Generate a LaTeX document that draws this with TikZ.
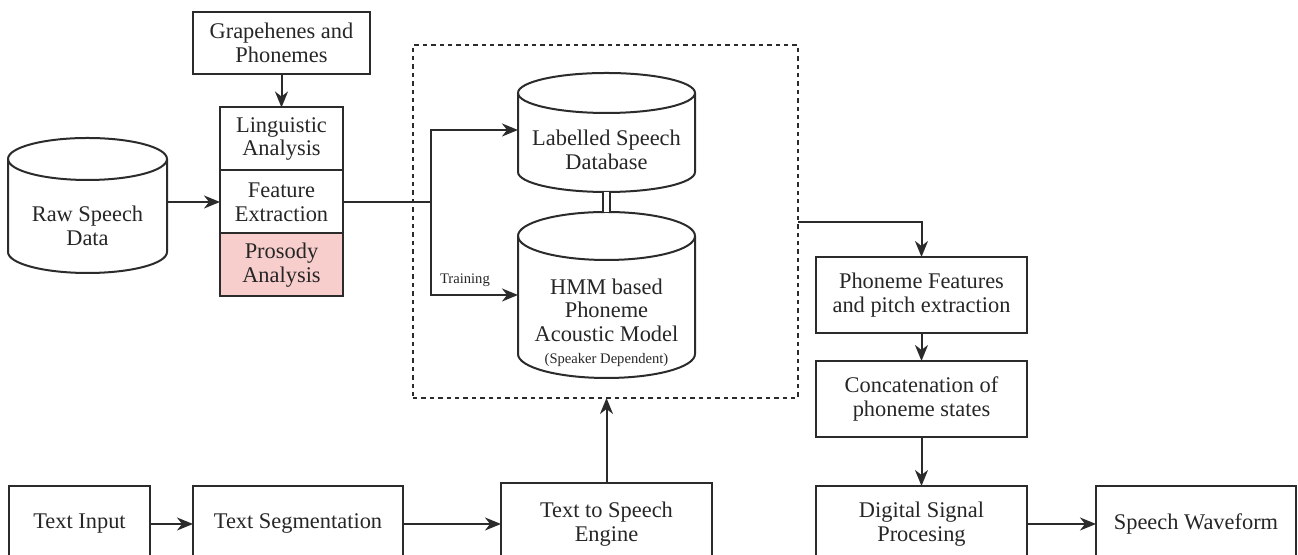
\documentclass[tikz,border=0pt]{standalone}
\usepackage{fontspec}
\setmainfont{Liberation Serif}
\usetikzlibrary{arrows.meta}
\definecolor{linec}{HTML}{2B2B2B}
\definecolor{pinkf}{HTML}{F8CECC}
\begin{document}
\begin{tikzpicture}[x=0.5pt,y=0.5pt,
  every node/.style={font=\fontsize{11.2}{11.8}\selectfont, text=black!85, align=center},
  box/.style={draw=linec, line width=1pt, inner sep=0pt, outer sep=0pt},
  body/.style={inner sep=0pt, outer sep=0pt},
  ln/.style={draw=linec, line width=1pt},
  arr/.style={draw=linec, line width=1pt, -{Stealth[length=8pt,width=6.5pt,inset=2.5pt]}},
  dbl/.style={draw=linec, line width=0.9pt, double, double distance=2.6pt},
  dashbox/.style={draw=linec, line width=0.9pt, dash pattern=on 2.2pt off 2pt, inner sep=0pt, outer sep=0pt},
  small/.style={font=\fontsize{7.3}{8}\selectfont},
]
\useasboundingbox (0,0) rectangle (1298,555);
\clip (0,0) rectangle (1298,555);

% dashed group box
\node[dashbox, minimum width=192.5pt, minimum height=176.5pt] (grp) at (605.5,333.5) {};

% top-left boxes
\node[box, minimum width=88.5pt, minimum height=31pt] (graph) at (281.5,512) {Grapehenes and\\Phonemes};
\node[box, minimum width=61.5pt, minimum height=31.5pt] (ling) at (281.5,416) {Linguistic\\Analysis};
\node[box, minimum width=61.5pt, minimum height=31.5pt] (feat) at (281.5,353) {Feature\\Extraction};
\node[box, fill=pinkf, minimum width=61.5pt, minimum height=31.5pt] (pros) at (281.5,290) {Prosody\\Analysis};

% Raw Speech Data cylinder
\node[body, minimum width=79.5pt, minimum height=67.5pt] (raw) at (87.5,349.5) {};
\draw[ln] (8,396) -- (8,303) arc[start angle=180, end angle=360, x radius=79.5, y radius=21] -- (167,396);
\draw[ln] (87.5,396) ellipse [x radius=79.5, y radius=21];
\node (rawtxt) at (87.5,329) {Raw Speech\\Data};

% Labelled Speech Database cylinder
\node[body, minimum width=88.5pt, minimum height=59.5pt] (ldb) at (606.5,422.5) {};
\draw[ln] (518,462) -- (518,383) arc[start angle=180, end angle=360, x radius=88.5, y radius=20] -- (695,462);
\draw[ln] (606.5,462) ellipse [x radius=88.5, y radius=20];
\node (ldbtxt) at (606.5,405) {Labelled Speech\\Database};

% HMM cylinder
\node[body, minimum width=88.5pt, minimum height=83pt] (hmm) at (606.5,260) {};
\draw[ln] (518,319) -- (518,201) arc[start angle=180, end angle=360, x radius=88.5, y radius=24] -- (695,319);
\draw[ln] (606.5,319) ellipse [x radius=88.5, y radius=24];
\node (hmmtxt) at (606.5,245) {HMM based\\Phoneme\\Acoustic Model};
\node[small] (spk) at (606.5,195) {(Speaker Dependent)};

% right column
\node[box, minimum width=105.5pt, minimum height=38pt] (phon) at (921.5,260) {Phoneme Features\\and pitch extraction};
\node[box, minimum width=105.5pt, minimum height=38pt] (conc) at (921.5,156) {Concatenation of\\phoneme states};
\node[box, minimum width=105.5pt, minimum height=38pt] (dsp) at (921.5,31) {Digital Signal\\Procesing};
\node[box, minimum width=100pt, minimum height=38pt] (sw) at (1196,31) {Speech Waveform};

% bottom row
\node[box, minimum width=70.5pt, minimum height=38pt] (tin) at (79.5,31) {Text Input};
\node[box, minimum width=105pt, minimum height=38pt] (tseg) at (298,31) {Text Segmentation};
\node[box, minimum width=105.5pt, minimum height=41pt] (tts) at (606.5,31) {Text to Speech\\Engine};

% connector helper coordinates
\coordinate (br) at (431,353);
\coordinate (ldbin) at (518,425);
\coordinate (hmmin) at (518,260);
\coordinate (gout) at (798,333);

% connectors
\draw[arr] (graph) -- (ling);
\draw[arr] (raw.east |- feat.west) -- (feat.west);
\draw[arr] (feat.east) -- (br) |- (ldbin);
\draw[arr] (br) |- (hmmin);
\node[small, anchor=south west] (trn) at (433,261) {Training};
\draw[dbl] (ldb.south) -- (hmm.north);
\draw[arr] (gout) -| (phon.north);
\draw[arr] (phon) -- (conc);
\draw[arr] (conc) -- (dsp);
\draw[arr] (dsp) -- (sw);
\draw[arr] (tin) -- (tseg);
\draw[arr] (tseg) -- (tts);
\draw[arr] (tts.north) -- (tts.north |- grp.south);
\end{tikzpicture}
\end{document}
